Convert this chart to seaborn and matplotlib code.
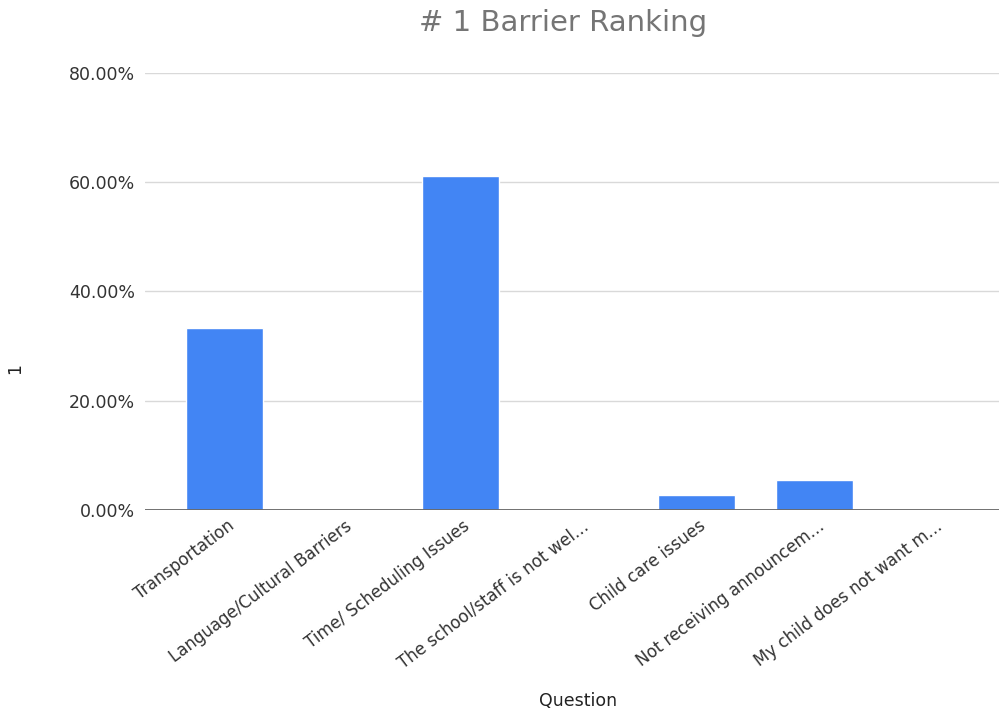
import matplotlib
matplotlib.use("Agg")
import matplotlib.pyplot as plt
import matplotlib.transforms as mtransforms
from matplotlib.ticker import FuncFormatter
import seaborn as sns
import pandas as pd

categories = [
    "Transportation",
    "Language/Cultural Barriers",
    "Time/ Scheduling Issues",
    "The school/staff is not wel…",
    "Child care issues",
    "Not receiving announcem…",
    "My child does not want m…",
]
values = [0.3333, 0.0, 0.6111, 0.0, 0.0278, 0.0556, 0.0]
yticks = [0.0, 0.2, 0.4, 0.6, 0.8]

df = pd.DataFrame({"Question": categories, "1": values})

sns.set_theme(style="white")
plt.rcParams["font.family"] = ["DejaVu Sans"]

fig = plt.figure(figsize=(9.99, 7.10), dpi=100)
ax = fig.add_axes([0.145, 0.2817, 0.855, 0.6155])

sns.barplot(data=df, x="Question", y="1", color="#4285F4", saturation=1,
            width=0.65, ax=ax, zorder=3)

ax.set_ylim(0, 0.8)
ax.set_xlim(-0.674, 6.56)
ax.set_yticks(yticks)
ax.yaxis.set_major_formatter(FuncFormatter(lambda v, p: f"{v*100:.2f}%"))
ax.grid(axis="y", color="#d9d9d9", linewidth=1.0, zorder=0)
for s in ["top", "right", "left", "bottom"]:
    ax.spines[s].set_visible(False)
ax.axhline(0, color="#666666", linewidth=1.3, zorder=4)

ax.tick_params(axis="y", length=0, pad=7, labelsize=12.5, labelcolor="#333333")
ax.tick_params(axis="x", length=0, pad=5, labelsize=12, labelcolor="#333333")

offset = mtransforms.ScaledTranslation(2 / 100, 0, fig.dpi_scale_trans)
for lab in ax.get_xticklabels():
    lab.set_rotation(37)
    lab.set_ha("right")
    lab.set_rotation_mode("anchor")
    lab.set_transform(lab.get_transform() + offset)

ax.set_xlabel("")
ax.set_ylabel("")
fig.text(578 / 999, 1 - 701 / 710, "Question", ha="center", va="center",
         fontsize=12.5, color="#222222")
fig.text(15 / 999, 1 - 369 / 710, "1", ha="center", va="center",
         rotation=90, fontsize=12.5, color="#222222")

fig.text(563 / 999, 1 - 23 / 710, "# 1 Barrier Ranking", ha="center",
         va="center", fontsize=21, color="#757575")

fig.savefig("out.png", dpi=100)
